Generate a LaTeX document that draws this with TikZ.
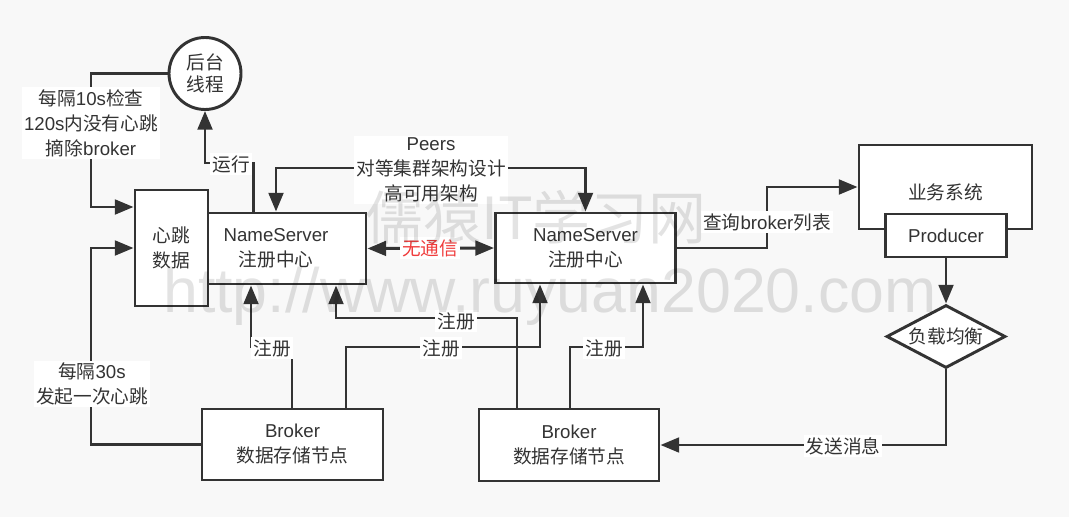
\documentclass[tikz,border=0pt]{standalone}
\usepackage{fontspec}
\setmainfont{Noto Sans CJK SC}
\newfontfamily\lat{Liberation Sans}
\usetikzlibrary{arrows.meta,shapes.geometric}
\definecolor{ink}{HTML}{333333}
\definecolor{bgc}{HTML}{F8F8F8}
\definecolor{redt}{HTML}{F03C3C}
\newcommand\la[1]{{\lat #1}}
\newcommand\fs{\fontsize{14pt}{18.75pt}\selectfont}
\begin{document}
\begin{tikzpicture}[x=0.75pt,y=-0.75pt,
  box/.style={draw=ink, fill=white, line width=2.2pt, inner sep=0pt, align=center, text=ink, font=\fs},
  lbl/.style={fill=white, text=ink, font=\fs, align=center, inner sep=1.5pt},
  tip/.tip={Triangle[length=14pt,width=11pt]},
  arr/.style={draw=ink, line width=2.2pt, -tip},
  arr2/.style={draw=ink, line width=2.2pt, tip-tip},
  wmark/.style={text=black, opacity=0.11, inner sep=0pt}]
\useasboundingbox (0,0) rectangle (1069,517);
\fill[bgc] (0,0) rectangle (1069,517);

% nodes
\node[box, circle, minimum size=54pt, font=\fontsize{14pt}{16pt}\selectfont] (circ) at (205,73.5) {后台\\线程};
\node[box, minimum width=135pt, minimum height=53.25pt] (ns1) at (276,248.5) {\la{NameServer}\\注册中心};
\node[box, minimum width=54.75pt, minimum height=87pt] (hb) at (171.5,248) {心跳\\数据};
\node[box, minimum width=135pt, minimum height=52.5pt] (ns2) at (585.5,248) {\la{NameServer}\\注册中心};
\node[box, minimum width=129.75pt, minimum height=63pt] (biz) at (945.5,187) {};
\node[text=ink, font=\fs, inner sep=0pt] (bizt) at (945.5,192) {业务系统};
\node[box, minimum width=90.75pt, minimum height=32.25pt] (prod) at (946,235.5) {\la{Producer}};
\node[box, diamond, aspect=1.9, minimum width=89.25pt, minimum height=47.25pt] (lb) at (946,336.5) {负载均衡};
\node[box, minimum width=135.75pt, minimum height=53.25pt] (b1) at (292.5,444.5) {\la{Broker}\\数据存储节点};
\node[box, minimum width=135pt, minimum height=54pt] (b2) at (569,445) {\la{Broker}\\数据存储节点};

% connectors
\draw[arr] (circ.west) -| (91,207) -- (hb.west |- 91,207);
\draw[arr] (ns1.north -| 253.5,0) |- (205,163) -- (circ.south);
\draw[arr2] (ns1.north) |- (ns2.north |- 0,168) -- (ns2.north);
\draw[arr2] (ns1.east) -- (ns2.west);
\draw[arr] (ns2.east) -| (767,187) -- (biz.west);
\draw[arr] (prod) -- (lb);
\draw[arr] (lb.south) |- (b2.east);
\draw[arr] (b1.west) -| (91,248) -- (hb.west);
\draw[arr] (b1.north -| 292,0) |- (251,347) -- (ns1.south -| 251,0);
\draw[arr] (b1.north -| 346,0) |- (540,347) -- (ns2.south -| 540,0);
\draw[arr] (b2.north -| 517,0) |- (336,318) -- (ns1.south -| 336,0);
\draw[arr] (b2.north -| 570,0) |- (643,347) -- (ns2.south -| 643,0);

% labels
\node[lbl] (l10) at (91,123) {每隔\la{10s}检查\\\la{120s}内没有心跳\\摘除\la{broker}};
\node[lbl] (lrun) at (231,164) {运行};
\node[lbl] (lpeer) at (431,170) {\la{Peers}\\对等集群架构设计\\高可用架构};
\node[lbl, text=redt] (lno) at (430,248) {无通信};
\node[lbl] (lq) at (767,222) {查询\la{broker}列表};
\node[lbl] (lsend) at (843,446) {发送消息};
\node[lbl] (l30) at (92,384) {每隔\la{30s}\\发起一次心跳};
\node[lbl] (lr1) at (272,348) {注册};
\node[lbl] (lr2) at (441,348) {注册};
\node[lbl] (lr3) at (456,321) {注册};
\node[lbl] (lr4) at (604,348) {注册};

% watermark
\node[wmark, font=\fontsize{43.5pt}{50pt}\selectfont] (wm1) at (536,217) {儒猿IT学习网};
\node[wmark, font=\lat\fontsize{47pt}{55pt}\selectfont, anchor=base west] (wm2) at (163,312) {http://www.ruyuan2020.com};
\end{tikzpicture}
\end{document}
